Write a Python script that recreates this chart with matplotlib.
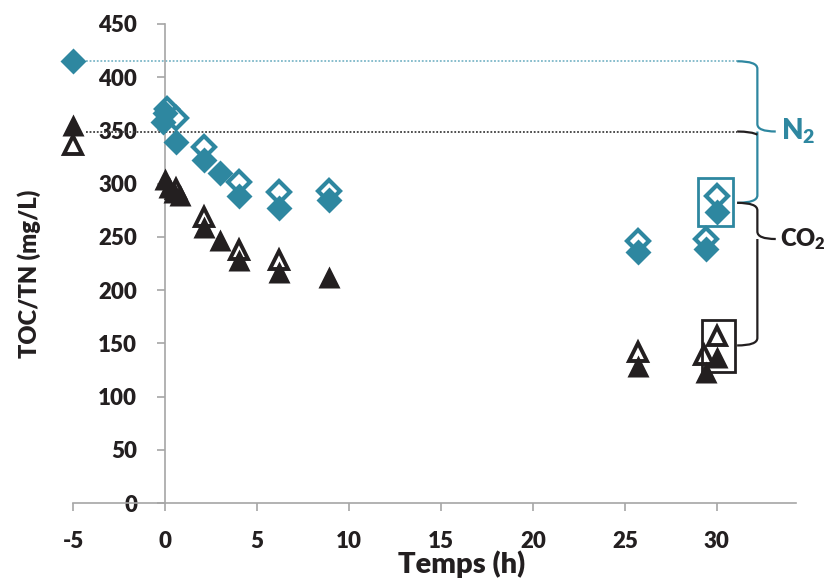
import numpy as np
import matplotlib
matplotlib.use('Agg')
import matplotlib.pyplot as plt
from matplotlib.path import Path
from matplotlib.patches import PathPatch, Rectangle

plt.rcParams['font.family'] = ['Lato', 'DejaVu Sans']
plt.rcParams['font.weight'] = 'heavy'
plt.rcParams['axes.unicode_minus'] = False
plt.rcParams['mathtext.fontset'] = 'custom'
plt.rcParams['mathtext.rm'] = 'Lato:heavy'
plt.rcParams['mathtext.bf'] = 'Lato:heavy'
plt.rcParams['mathtext.it'] = 'Lato:heavy'

TEAL = '#2E87A0'
BLACK = '#231F20'
GREY = '#A6A6A6'

# N2 : TOC (open) / TN (filled) -- diamonds
n2_open_t = [0.1, 0.6, 2.1, 4.0, 6.2, 8.9, 25.7, 29.4, 30.0]
n2_open_v = [370, 362, 334, 302, 292, 293, 246, 248, 288]
n2_fill_t = [-5.0, 0.0, -0.1, 0.6, 2.1, 3.0, 4.0, 6.2, 8.9, 25.7, 29.4, 30.0]
n2_fill_v = [415, 366, 358, 339, 322, 310, 288, 277, 285, 236, 239, 273]

# CO2 : TOC (open) / TN (filled) -- triangles
co2_open_t = [-5.0, 0.6, 2.1, 4.0, 6.2, 25.7, 29.3, 30.0]
co2_open_v = [336, 295, 269, 238, 228, 142, 139, 157]
co2_fill_t = [-5.0, 0.0, 0.2, 0.5, 0.8, 2.1, 3.0, 4.0, 6.2, 8.9, 25.7, 29.4, 30.0]
co2_fill_v = [355, 304, 297, 292, 289, 259, 247, 228, 217, 212, 129, 123, 137]

# reference levels / bracket positions (data units)
ref_n2 = 415
ref_co2 = 349
n2_tip, n2_bottom = 349, 282
co2_tip, co2_bottom = 248, 148

fig = plt.figure(figsize=(8.3, 5.81), dpi=100)
ax = fig.add_axes([73 / 830, 78 / 581, 723 / 830, 479 / 581])

ax.plot(n2_open_t, n2_open_v, 'D', ms=11.5, mfc='white', mec=TEAL, mew=3, ls='none', zorder=3, clip_on=False)
ax.plot(co2_open_t, co2_open_v, '^', ms=13.5, mfc='white', mec=BLACK, mew=2.8, ls='none', zorder=3, clip_on=False)
ax.plot(n2_fill_t, n2_fill_v, 'D', ms=13, color=TEAL, mec='none', ls='none', zorder=4, clip_on=False)
ax.plot(co2_fill_t, co2_fill_v, '^', ms=16, color=BLACK, mec='none', ls='none', zorder=4, clip_on=False)

ax.set_xlim(-5, 34.3)
ax.set_ylim(0, 450)
ax.set_xticks(np.arange(-5, 31, 5))
ax.set_yticks(np.arange(0, 451, 50))

for s in ['top', 'right']:
    ax.spines[s].set_visible(False)
ax.spines['left'].set_position(('data', 0))
ax.spines['left'].set_color(GREY)
ax.spines['bottom'].set_color(GREY)
ax.spines['left'].set_linewidth(1.2)
ax.spines['bottom'].set_linewidth(1.2)
ax.tick_params(axis='both', colors=GREY, length=6, width=1.2, labelsize=16,
               labelcolor=BLACK)
ax.tick_params(axis='y', pad=14)
ax.tick_params(axis='x', pad=14)
for lab in ax.get_xticklabels() + ax.get_yticklabels():
    lab.set_fontweight('heavy')

# dotted reference lines
ax.plot([-4.3, 31.1], [ref_n2, ref_n2], ls=(0, (1, 1)), color='#7DB7C8', lw=1.3, zorder=2)
ax.plot([-4.3, 31.1], [ref_co2, ref_co2], ls=(0, (1, 1)), color='#404040', lw=1.3, zorder=2)


def brace(x0, xv, xt, top, tip, bottom, color):
    ry = 7
    verts = [(x0, top), (xv, top), (xv, top - ry),
             (xv, tip + ry), (xv, tip), (xt, tip),
             (xv, tip), (xv, tip - ry),
             (xv, bottom + ry), (xv, bottom), (x0, bottom)]
    codes = [Path.MOVETO, Path.CURVE3, Path.CURVE3,
             Path.LINETO, Path.CURVE3, Path.CURVE3,
             Path.MOVETO, Path.CURVE3,
             Path.LINETO, Path.CURVE3, Path.CURVE3]
    ax.add_patch(PathPatch(Path(verts, codes), fill=False, edgecolor=color,
                           lw=1.6, clip_on=False, zorder=2))


brace(31.1, 32.2, 33.2, ref_n2, n2_tip, n2_bottom, TEAL)
brace(31.1, 32.2, 33.2, n2_bottom, co2_tip, co2_bottom, BLACK)
# black arm of the CO2 level joining the N2 brace
ax.add_patch(PathPatch(Path([(31.1, ref_co2), (31.9, ref_co2), (32.2, ref_co2 - 3)],
                            [Path.MOVETO, Path.CURVE3, Path.CURVE3]),
                       fill=False, edgecolor=BLACK, lw=1.6, clip_on=False, zorder=2))

# boxes around the last samples
ax.add_patch(Rectangle((29.0, 260), 1.85, 45, fill=False, edgecolor=TEAL, lw=2, zorder=5))
ax.add_patch(Rectangle((29.2, 123), 1.8, 49, fill=False, edgecolor=BLACK, lw=2, zorder=5))

ax.text(33.5, n2_tip, r'N$_{2}$', color=TEAL, fontsize=20, fontweight='heavy',
        va='center', ha='left', clip_on=False)
ax.text(33.45, co2_tip, r'CO$_{2}$', color=BLACK, fontsize=17, fontweight='heavy',
        va='center', ha='left', clip_on=False)

fig.text(29 / 830, 1 - 274 / 581, 'TOC/TN (mg/L)', rotation=90, fontsize=17,
         fontweight='heavy', color=BLACK, ha='center', va='center')
fig.text(462 / 830, 1 - 573 / 581, 'Temps (h)', fontsize=21,
         fontweight='heavy', color=BLACK, ha='center', va='baseline')

fig.savefig('out.png', dpi=100)
